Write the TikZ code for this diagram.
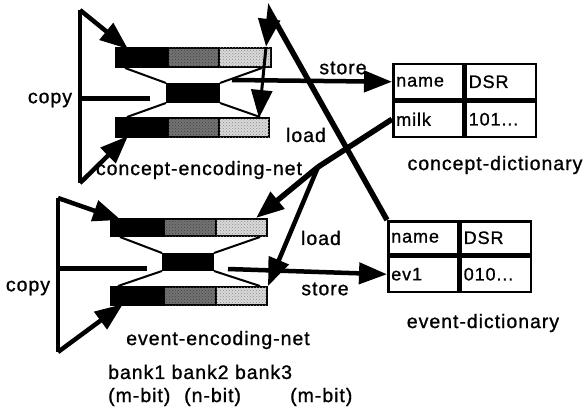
\documentclass[tikz,border=0pt]{standalone}
\usepackage{fontspec}
\setmainfont{Liberation Sans}
\newfontfamily\labfont[LetterSpace=5, FakeBold=1]{Liberation Sans}
\usetikzlibrary{arrows.meta,patterns}
\begin{document}
\begin{tikzpicture}[x=1pt,y=-1pt,
  lab/.style={font=\labfont\fontsize{19.5}{22}\selectfont, inner sep=0},
  bk/.style={draw=black, line width=2, anchor=north west, inner sep=0, minimum height=19},
  bankA/.style={bk, fill=black},
  bankB/.style={bk, fill=black!55, postaction={pattern=crosshatch dots, pattern color=black!75}},
  bankC/.style={bk, fill=black!15, postaction={pattern=crosshatch dots, pattern color=black!45}},
  hid/.style={draw=black, line width=1, fill=black, anchor=north west, inner sep=0, minimum width=53, minimum height=19},
  trap/.style={line width=2},
  loopline/.style={line width=4.5},
  arr/.style={-{Triangle[length=28pt,width=21pt]}},
  big/.style={line width=5.5},
  cell/.style={draw, line width=2.5, anchor=north west, minimum height=35, text width=64, inner xsep=3, inner ysep=0, align=left, font=\labfont\fontsize{18}{20}\selectfont},
]
\useasboundingbox (0,0) rectangle (588,409);

% ---------------- concept-encoding-net ----------------
\node[bankA, minimum width=52] (cT1) at (115,47) {};
\node[bankB, minimum width=51] (cT2) at (167,47) {};
\node[bankC, minimum width=52] (cT3) at (218,47) {};
\node[hid] (cH) at (166,83) {};
\node[bankA, minimum width=52] (cB1) at (115,117) {};
\node[bankB, minimum width=51] (cB2) at (167,117) {};
\node[bankC, minimum width=50] (cB3) at (218,117) {};
\draw[trap] ([xshift=10pt]cT1.south west) -- (cH.north west);
\draw[trap] ([xshift=-10pt]cT3.south east) -- (cH.north east);
\draw[trap] (cH.south west) -- ([xshift=12pt]cB1.north west);
\draw[trap] (cH.south east) -- ([xshift=-10pt]cB3.north east);

% copy loop
\coordinate (cLt) at (80,10);
\coordinate (cLb) at (80,183);
\coordinate (cLm) at (80,99);
\coordinate (cLe) at (150,99);
\draw[loopline] (cLt) -- (cLb);
\draw[loopline, arr] (cLt) -- ([xshift=13pt,yshift=-2pt]cT1.north west);
\draw[loopline, arr] (cLb) -- ([xshift=13pt,yshift=2pt]cB1.south west);
\draw[line width=5] (cLm) -- (cLe);
\node[lab] (copyC) at (50,100) {copy};

% ---------------- event-encoding-net ----------------
\node[bankA, minimum width=53, minimum height=17] (eT1) at (110,218) {};
\node[bankB, minimum width=52, minimum height=17] (eT2) at (163,218) {};
\node[bankC, minimum width=51, minimum height=17] (eT3) at (215,218) {};
\node[hid, minimum width=51, minimum height=17] (eH) at (162,253) {};
\node[bankA, minimum width=53, minimum height=18] (eB1) at (110,286) {};
\node[bankB, minimum width=52, minimum height=18] (eB2) at (163,286) {};
\node[bankC, minimum width=51, minimum height=18] (eB3) at (215,286) {};
\draw[trap] ([xshift=10pt]eT1.south west) -- (eH.north west);
\draw[trap] ([xshift=-8pt]eT3.south east) -- (eH.north east);
\draw[trap] (eH.south west) -- ([xshift=8pt]eB1.north west);
\draw[trap] (eH.south east) -- ([xshift=-8pt]eB3.north east);

\coordinate (eLt) at (58,198);
\coordinate (eLb) at (58,352);
\coordinate (eLm) at (58,268);
\coordinate (eLe) at (147,268);
\draw[loopline] (eLt) -- (eLb);
\draw[loopline, arr] (eLt) -- ([xshift=11pt,yshift=-2pt]eT1.north west);
\draw[loopline, arr] (eLb) -- ([xshift=13pt,yshift=2pt]eB1.south west);
\draw[line width=5] (eLm) -- (eLe);
\node[lab] (copyE) at (28,288) {copy};

% ---------------- dictionaries ----------------
\node[cell] (cdN) at (392,63) {name};
\node[cell] (cdD) at (cdN.north east) {DSR};
\node[cell] (cdM) at (cdN.south west) {milk};
\node[cell] (cdV) at (cdM.north east) {101...};

\node[cell, minimum height=33] (edN) at (387,220) {name};
\node[cell, minimum height=33] (edD) at (edN.north east) {DSR};
\node[cell, minimum height=35] (edE) at (edN.south west) {ev1};
\node[cell, minimum height=35] (edV) at (edE.north east) {010...};

% ---------------- store connectors ----------------
\coordinate (cS) at (232,80);
\draw[loopline, arr] (cS) -- (cdN.west);
\coordinate (eS) at (228,269);
\draw[loopline, arr] (eS) -- (edE.west);

% ---------------- load connectors ----------------
\coordinate (apex) at (270,12);
\draw[big, arr] (edN.north west) -- (apex) -- ([xshift=-6pt]cT3.north east);
\draw[line width=3, arr] ([xshift=-6pt]cT3.north east) -- ([xshift=-11pt,yshift=-1pt]cB3.north east);

\coordinate (br) at (318,167);
\draw[big] (cdM.west) -- (br);
\draw[big, arr] (br) -- ([xshift=-12pt]eT3.north east);
\draw[loopline, arr] (br) -- (eB3.north east);

% ---------------- labels ----------------
\node[lab] (stC) at (343,68) {store};
\node[lab] (ldC) at (306,135) {load};
\node[lab] (ldE) at (321,238) {load};
\node[lab] (stE) at (325,289) {store};
\node[lab] (cenet) at (199,170) {concept-encoding-net};
\node[lab] (cdict) at (495,165) {concept-dictionary};
\node[lab] (eenet) at (218,340) {event-encoding-net};
\node[lab] (edict) at (483,323) {event-dictionary};
\node[lab, anchor=west] (banks) at (108,372) {bank1 bank2 bank3};
\node[lab, anchor=west] (b1) at (108,397) {(m-bit)};
\node[lab, anchor=west] (b2) at (184,397) {(n-bit)};
\node[lab, anchor=west] (b3) at (290,397) {(m-bit)};
\end{tikzpicture}
\end{document}
